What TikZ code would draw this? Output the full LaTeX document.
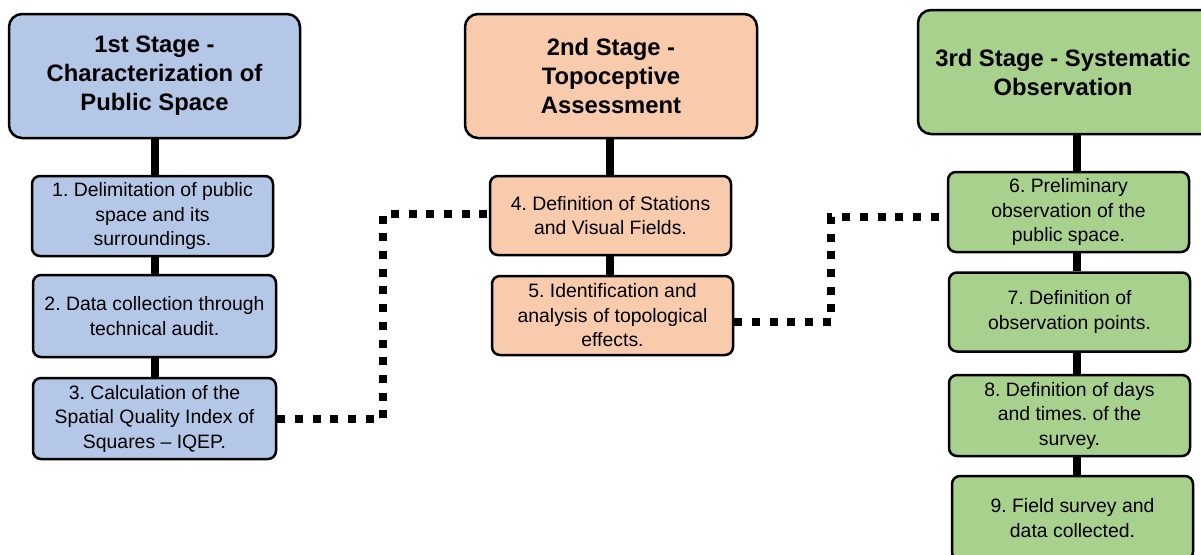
\documentclass[tikz,border=0pt]{standalone}
\usepackage{fontspec}
\setmainfont{Liberation Sans}
\usetikzlibrary{calc}
\frenchspacing
\definecolor{bluefill}{HTML}{B4C7E7}
\definecolor{orangefill}{HTML}{F8CBAD}
\definecolor{greenfill}{HTML}{A9D18E}
\tikzset{
  box/.style={draw=black, line width=2.5pt, align=center, inner sep=0pt, text=black},
  titlebox/.style={box, rounded corners=13pt, font=\fontsize{23.8}{29}\selectfont\bfseries},
  itembox/.style={box, rounded corners=8pt, font=\fontsize{19.4}{24.5}\selectfont},
  stem/.style={line width=8pt, black},
  dotline/.style={line width=8pt, black, dash pattern=on 8pt off 9.7pt},
}
\begin{document}
\begin{tikzpicture}[x=1pt, y=-1pt]
\useasboundingbox (0,0) rectangle (1201,554);
% column 1
\node[titlebox, fill=bluefill, minimum width=291pt, minimum height=124pt] (T1) at (154.5,76) {1st Stage -\\Characterization of\\Public Space};
\node[itembox, fill=bluefill, minimum width=241pt, minimum height=80pt] (I1) at (152.5,216) {1. Delimitation of public\\space and its\\surroundings.};
\node[itembox, fill=bluefill, minimum width=243pt, minimum height=82pt] (I2) at (154.5,316) {2. Data collection through\\technical audit.};
\node[itembox, fill=bluefill, minimum width=243pt, minimum height=81pt] (I3) at (154.5,418.5) {3. Calculation of the\\Spatial Quality Index of\\Squares -- IQEP.};
% column 2
\node[titlebox, fill=orangefill, minimum width=292pt, minimum height=124pt] (T2) at (611,76) {2nd Stage -\\Topoceptive\\Assessment};
\node[itembox, fill=orangefill, minimum width=241pt, minimum height=79pt] (I4) at (610.5,215.5) {4. Definition of Stations\\and Visual Fields.};
\node[itembox, fill=orangefill, minimum width=241pt, minimum height=79pt] (I5) at (612.5,315.5) {5. Identification and\\analysis of topological\\effects.};
% column 3
\node[titlebox, fill=greenfill, minimum width=298pt, minimum height=124pt] (T3) at (1067,72) {\hspace*{-8pt}3rd Stage - Systematic\\\hspace*{-8pt}Observation};
\node[itembox, fill=greenfill, minimum width=241pt, minimum height=80pt] (I6) at (1068.5,212) {6. Preliminary\\observation of the\\public space.};
\node[itembox, fill=greenfill, minimum width=241pt, minimum height=79pt] (I7) at (1069.5,312) {7. Definition of\\observation points.};
\node[itembox, fill=greenfill, minimum width=241pt, minimum height=81pt] (I8) at (1069.5,415.5) {8. Definition of days\\and times. of the\\survey.};
\node[itembox, fill=greenfill, minimum width=241pt, minimum height=84pt] (I9) at (1072.5,518) {9. Field survey and\\data collected.};
% stems
\coordinate (c1) at (155,0);
\coordinate (c2) at (610,0);
\coordinate (c3) at (1077,0);
\draw[stem] (T1.south -| c1) -- (I1.north -| c1);
\draw[stem] (I1.south -| c1) -- (I2.north -| c1);
\draw[stem] (I2.south -| c1) -- (I3.north -| c1);
\draw[stem] (T2.south -| c2) -- (I4.north -| c2);
\draw[stem] (I4.south -| c2) -- (I5.north -| c2);
\draw[stem] (T3.south -| c3) -- (I6.north -| c3);
\draw[stem] (I6.south -| c3) -- (I7.north -| c3);
\draw[stem] (I7.south -| c3) -- (I8.north -| c3);
\draw[stem] (I8.south -| c3) -- (I9.north -| c3);
% dotted connectors
\draw[dotline] (I3.east) -- ++(106,0) |- ([yshift=2pt]I4.west);
\draw[dotline] ([yshift=-6pt]I5.east) -- ++(97,0) |- ([yshift=-5pt]I6.west);
\end{tikzpicture}
\end{document}
